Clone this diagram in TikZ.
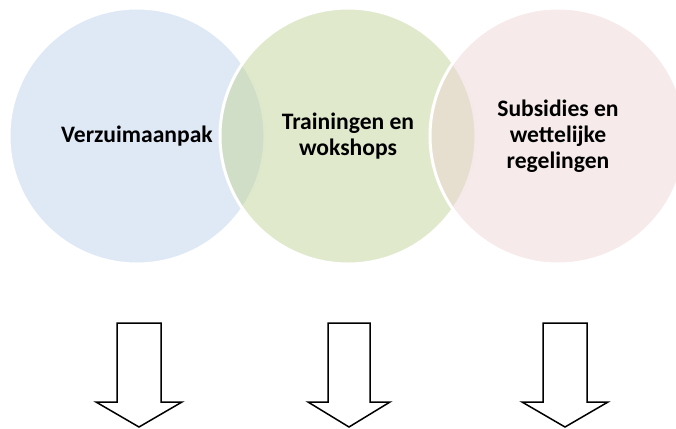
\documentclass[tikz,border=0pt]{standalone}
\usepackage{fontspec}
\setmainfont{Carlito}
\usetikzlibrary{positioning}
\definecolor{cBlue}{RGB}{191,211,237}
\definecolor{cGreen}{RGB}{193,211,153}
\definecolor{cPink}{RGB}{237,213,213}
\tikzset{
    circ/.style={circle, draw=white, line width=3pt, minimum size=256pt, inner sep=0pt, fill opacity=0.5},
    lbl/.style={align=center, font=\bfseries\fontsize{23.6}{26}\selectfont, text=black, inner sep=0pt},
    blockarrow/.style={draw=black, line width=1.5pt, fill=white, line join=miter}
}

\begin{document}
\begin{tikzpicture}[x=1pt,y=-1pt]
\useasboundingbox (0,0) rectangle (676,428);
% circles
\node[circ, fill=cBlue]  (verzuim)  at (137,136) {};
\node[circ, fill=cGreen] (training) at (348,136) {};
\node[circ, fill=cPink]  (subsidie) at (558,136) {};
\node[lbl] (verzuimtxt)  at (verzuim.center)  {Verzuimaanpak};
\node[lbl] (trainingtxt) at (training.center) {Trainingen en\\wokshops};
\node[lbl] (subsidietxt) at (subsidie.center) {Subsidies en\\wettelijke\\regelingen};
% arrows
\draw[blockarrow, shift={(139,0)}] (-22,323) -- (22,323) -- (22,402) -- (43,402) -- (0,427) -- (-43,402) -- (-22,402) -- cycle;
\draw[blockarrow, shift={(349,0)}] (-21,323) -- (21,323) -- (21,402) -- (41,402) -- (0,427) -- (-41,402) -- (-21,402) -- cycle;
\draw[blockarrow, shift={(565,0)}] (-22,323) -- (22,323) -- (22,402) -- (43,402) -- (0,427) -- (-43,402) -- (-22,402) -- cycle;
\end{tikzpicture}
\end{document}
